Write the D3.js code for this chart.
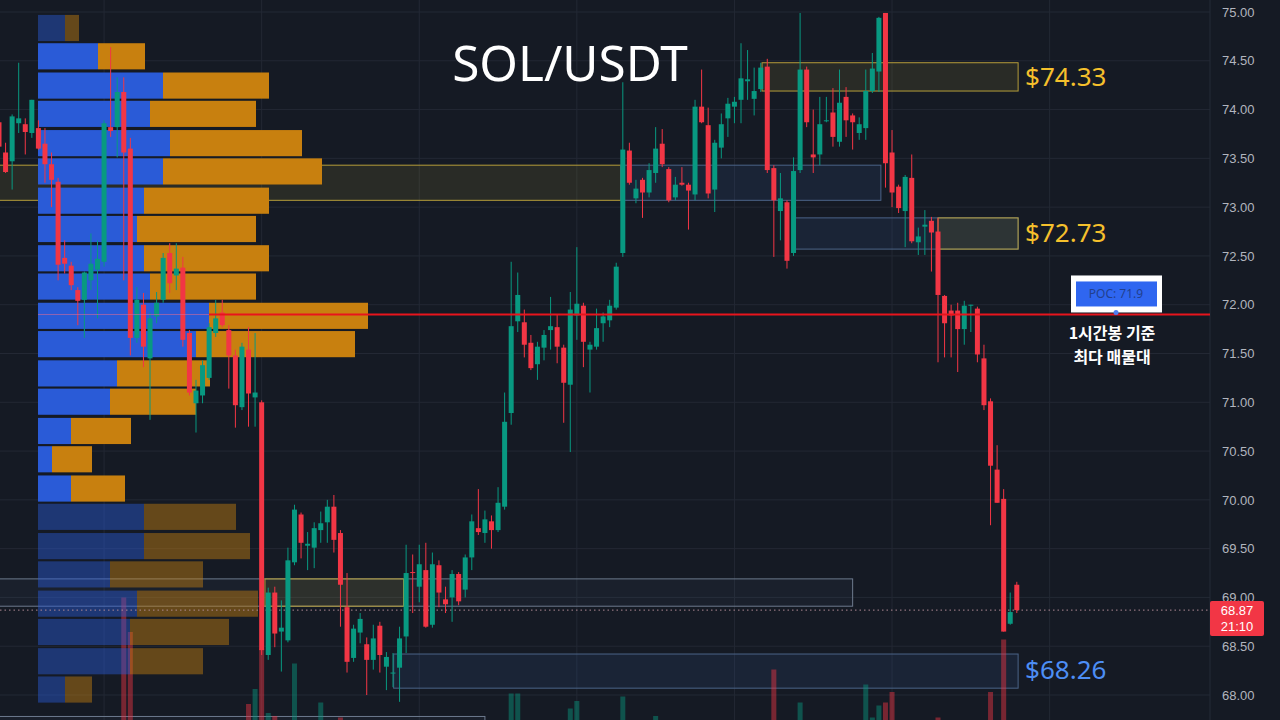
<!DOCTYPE html>
<html>
<head>
<meta charset="utf-8">
<script src="https://cdn.jsdelivr.net/npm/d3@7"></script>
<style>
  body { margin: 0; background: #151a24; overflow: hidden; }
</style>
</head>
<body>
<div id="chart"></div>
<script>
// SOL/USDT 1h candles (index 0 = leftmost visible bar)
const opens = [73.87,73.56,73.47,73.86,73.85,73.76,73.81,73.65,73.44,73.26,
  72.48,72.40,72.15,72.05,72.25,72.36,72.44,73.82,73.82,74.18,
  73.60,71.66,72.00,71.45,71.88,72.05,72.53,72.30,72.38,71.71,
  70.99,71.07,71.25,71.71,71.92,71.74,71.48,70.95,71.54,71.05,
  71.00,68.41,69.05,68.65,68.56,69.36,69.85,69.53,69.51,69.69,
  69.77,69.93,69.66,68.90,68.38,68.64,68.52,68.36,68.71,68.29,
  68.22,68.28,68.60,69.26,69.11,69.28,68.72,69.33,68.98,69.00,
  69.24,69.08,69.41,69.71,69.66,69.78,69.69,69.93,70.89,71.83,
  71.82,71.61,71.39,71.56,71.74,71.77,71.56,71.18,71.89,71.99,
  71.54,71.57,71.81,71.84,71.97,72.53,73.58,73.09,73.28,73.15,
  73.35,73.65,73.39,73.10,73.25,73.23,73.13,74.03,73.84,73.18,
  73.61,73.91,74.03,74.10,74.29,74.11,74.21,74.44,73.40,72.96,
  73.05,72.53,73.38,74.41,73.54,73.54,73.88,73.97,73.67,74.13,
  73.94,73.76,73.81,74.19,74.39,74.99,73.56,73.21,72.96,73.30,
  72.64,72.80,72.86,72.75,72.09,71.94,71.94,71.75,71.99,71.96,
  71.45,71.01,70.31,70.01,68.73,69.13];
const highs = [73.94,73.66,73.95,74.48,73.91,74.10,73.89,73.81,73.56,73.30,
  72.66,72.44,72.18,72.34,72.73,72.66,73.89,74.64,74.33,74.33,
  73.71,72.18,72.12,71.92,72.13,72.53,72.63,72.63,72.49,71.74,
  71.23,71.43,71.81,72.05,72.05,71.79,71.54,71.61,71.77,71.71,
  71.02,69.10,69.11,68.97,69.51,69.95,69.87,69.67,69.77,69.88,
  70.00,70.05,69.69,69.25,68.72,68.84,68.59,68.72,68.75,68.44,
  68.43,68.70,69.54,69.44,69.54,69.56,69.46,69.38,69.11,69.28,
  69.26,69.44,69.85,70.11,69.89,69.84,70.13,71.10,72.44,72.33,
  71.95,71.69,71.62,71.74,72.08,71.90,71.59,72.13,72.59,72.02,
  71.62,71.96,71.92,72.05,72.43,74.28,73.66,73.28,73.30,73.45,
  73.82,73.80,73.41,73.31,73.41,73.25,74.10,74.41,74.02,73.69,
  73.96,74.12,74.13,74.68,74.61,74.43,74.48,74.52,73.43,73.35,
  73.07,73.51,74.99,74.44,74.00,74.13,74.13,74.22,74.41,74.23,
  73.96,73.92,74.41,74.58,74.95,74.99,73.79,73.23,73.33,73.54,
  72.79,72.97,72.90,72.89,72.10,72.00,72.02,72.04,72.00,71.98,
  71.59,71.04,70.56,70.11,69.05,69.16];
const lows = [73.59,73.35,73.18,73.76,73.54,73.71,73.59,73.25,73.00,72.25,
  72.32,72.15,71.79,71.66,72.15,71.86,72.39,73.72,73.51,72.25,
  71.48,71.61,71.36,70.82,71.81,72.02,72.12,72.15,71.57,71.07,
  70.69,70.99,71.23,71.67,71.77,71.14,70.74,70.92,70.75,70.75,
  68.41,68.36,68.49,68.24,68.54,69.33,69.40,69.28,69.30,69.56,
  69.56,69.46,68.70,68.23,68.34,68.53,68.00,68.26,68.23,68.05,
  68.08,67.93,68.43,68.84,68.95,68.69,68.69,68.90,68.84,68.75,
  68.92,69.00,69.28,69.64,69.56,69.50,69.67,69.90,70.77,71.72,
  71.46,71.33,71.23,71.43,71.54,71.40,70.79,70.49,71.64,71.36,
  71.10,71.54,71.62,71.77,71.95,72.49,73.23,73.04,72.89,73.10,
  73.25,73.41,73.05,73.07,73.22,72.77,73.07,73.86,73.09,72.95,
  73.50,73.72,73.86,73.86,74.10,73.94,74.18,73.35,72.49,72.66,
  72.37,72.50,73.35,73.82,73.35,73.43,73.87,73.62,73.62,73.72,
  73.59,73.69,73.69,74.17,74.18,73.20,73.00,72.94,72.59,72.63,
  72.51,72.51,72.34,71.41,71.46,71.46,71.31,71.59,71.72,71.41,
  70.92,69.74,69.97,68.65,68.72,68.84];
const closes = [73.62,73.36,73.93,73.91,73.77,74.10,73.60,73.44,73.28,72.41,
  72.42,72.20,72.04,72.33,72.42,72.47,73.86,73.78,74.18,73.56,
  71.66,72.05,71.57,71.86,72.02,72.48,72.22,72.37,71.64,71.10,
  71.12,71.38,71.77,71.86,71.79,71.48,70.97,71.57,71.09,71.10,
  68.46,69.05,68.63,68.69,69.38,69.90,69.56,69.55,69.71,69.76,
  69.93,69.59,69.13,68.34,68.68,68.78,68.36,68.58,68.41,68.39,
  68.23,68.58,69.25,69.25,69.34,68.70,69.34,69.05,68.93,69.24,
  68.96,69.41,69.78,69.67,69.80,69.69,69.97,70.80,71.78,72.10,
  71.59,71.35,71.57,71.69,71.78,71.57,71.20,71.95,72.01,71.62,
  71.59,71.76,71.88,71.99,72.39,73.59,73.25,73.19,73.15,73.38,
  73.60,73.44,73.07,73.23,73.23,73.17,74.03,73.87,73.14,73.66,
  73.85,74.06,74.08,74.32,74.31,74.19,74.43,73.38,73.07,73.09,
  72.45,73.37,74.41,73.87,73.51,73.85,73.89,73.72,74.07,73.89,
  73.87,73.85,74.19,74.42,74.94,73.45,73.15,72.99,73.31,72.65,
  72.70,72.82,72.74,72.10,71.81,71.89,71.75,71.99,72.00,71.49,
  70.97,70.35,69.97,68.65,68.85,68.87];

// volume bars that reach into view (bar index, volume in k)
const volIndex = [19,20,38,39,40,41,42,45,49,52,78,79,87,88,95,100,118,122,132,133,134,135,136,143,151,153];
const volValue = [95,72,24,34,61,18,16,51,25,15,31,31,21,26,29,16,47,25,37,15,23,25,32,15,32,67];

// volume profile rows (row top price), buy / sell volume
const profileTop = [74.97,74.68,74.38,74.09,73.79,73.50,73.20,72.91,72.61,72.32,
  72.02,71.73,71.43,71.14,70.84,70.55,70.25,69.96,69.66,69.37,69.07,68.78,68.48,68.19];
const profileBuy = [27,60,125,112,132,125,106,99,106,112,171,158,79,72,33,14,33,106,106,72,99,92,92,27];
const profileSell = [14,47,106,106,132,159,125,119,125,106,159,159,93,86,60,40,54,92,106,93,121,99,73,27];
const valueAreaHigh = 74.70, valueAreaLow = 70.0;
const poc = 71.9;
const lastPrice = 68.87, countdown = "21:10";

// supply / demand zones (bar index range, price range)
const zoneStart = [0, 94.7, 116.2, 121.3, 143, 0, 40.5, 60.1, 0];
const zoneEnd   = [94.7, 134.3, 155.2, 155.2, 155.2, 130, 61.6, 155.2, 74];
const zoneHigh  = [73.43, 73.43, 74.48, 72.89, 72.89, 69.19, 69.19, 68.42, 67.78];
const zoneLow   = [73.07, 73.07, 74.19, 72.57, 72.57, 68.91, 68.91, 68.07, 67.40];
const zoneKind  = ["yellow","blue","yellow","blue","yellow","gray","yellow","blue","gray"];

const levelLabels = ["$74.33", "$72.73", "$68.26"];
const levelPrices = [74.33, 72.73, 68.26];
const levelKinds  = ["yellow", "yellow", "blue"];

const priceTicks = [68,68.5,69,69.5,70,70.5,71,71.5,72,72.5,73,73.5,74,74.5,75];
const timeGrid = [16, 40, 64, 88, 112, 136, 160];

// ---------- setup ----------
const W = 1280, H = 720, plotRight = 1210;
const up = "#089981", down = "#f23645";

const svg = d3.select("#chart").append("svg")
  .attr("width", W).attr("height", H)
  .style("font-family", "'Noto Sans', sans-serif");

svg.append("rect").attr("width", W).attr("height", H).attr("fill", "#151a24");

const y = d3.scaleLinear().domain([68, 75]).range([695, 12]);
const x = d3.scaleLinear().domain([0, 155]).range([-1, 1016.8]);
const xVol = d3.scaleLinear().domain([0, 330]).range([38, 368]);
const yVolume = d3.scaleLinear().domain([0, 100]).range([740, 590]);

const candles = opens.map((o, i) => ({ i, o, h: highs[i], l: lows[i], c: closes[i] }));

// grid
const grid = svg.append("g");
grid.selectAll(".hg").data(priceTicks).enter().append("line")
  .attr("x1", 0).attr("x2", plotRight)
  .attr("y1", d => y(d)).attr("y2", d => y(d))
  .attr("stroke", "#232834").attr("stroke-width", 1);
grid.selectAll(".vg").data(timeGrid).enter().append("line")
  .attr("x1", d => x(d)).attr("x2", d => x(d))
  .attr("y1", 0).attr("y2", H)
  .attr("stroke", "#232834").attr("stroke-width", 1);
svg.append("line").attr("x1", plotRight).attr("x2", plotRight).attr("y1", 0).attr("y2", H)
  .attr("stroke", "#252a36");

// zones
const zoneStyle = {
  yellow: { fill: "rgba(150,135,50,0.16)", stroke: "#b59d3a" },
  blue:   { fill: "rgba(60,100,170,0.14)", stroke: "#4b6488" },
  gray:   { fill: "rgba(90,110,140,0.08)", stroke: "#6d7a8e" }
};
const zones = zoneStart.map((s, k) => ({ s, e: zoneEnd[k], hi: zoneHigh[k], lo: zoneLow[k], kind: zoneKind[k] }));
svg.append("g").selectAll("rect").data(zones).enter().append("rect")
  .attr("x", d => x(d.s)).attr("width", d => x(d.e) - x(d.s))
  .attr("y", d => y(d.hi)).attr("height", d => y(d.lo) - y(d.hi))
  .attr("fill", d => zoneStyle[d.kind].fill)
  .attr("stroke", d => zoneStyle[d.kind].stroke)
  .attr("stroke-width", 1);

// volume bars
svg.append("g").selectAll("rect").data(volIndex).enter().append("rect")
  .attr("x", d => x(d) - 2.5).attr("width", 5)
  .attr("y", (d, k) => yVolume(volValue[k]))
  .attr("height", (d, k) => H - yVolume(volValue[k]))
  .attr("fill", d => closes[d] >= opens[d] ? up : down)
  .attr("opacity", 0.45);

// volume profile
const rowH = y(0) - y(0.268);
const prof = svg.append("g");
const rows = profileTop.map((t, k) => ({ t, b: profileBuy[k], s: profileSell[k],
  inVA: t <= valueAreaHigh && t > valueAreaLow }));
prof.selectAll(".buy").data(rows).enter().append("rect")
  .attr("x", xVol(0)).attr("y", d => y(d.t))
  .attr("width", d => xVol(d.b) - xVol(0)).attr("height", rowH)
  .attr("fill", "#2a5bd7").attr("opacity", d => d.inVA ? 1 : 0.45);
prof.selectAll(".sell").data(rows).enter().append("rect")
  .attr("x", d => xVol(d.b)).attr("y", d => y(d.t))
  .attr("width", d => xVol(d.b + d.s) - xVol(d.b)).attr("height", rowH)
  .attr("fill", "#c8800f").attr("opacity", d => d.inVA ? 1 : 0.45);

// last price dotted line
svg.append("line")
  .attr("x1", 0).attr("x2", plotRight)
  .attr("y1", y(lastPrice)).attr("y2", y(lastPrice))
  .attr("stroke", "#b08a94").attr("stroke-width", 1)
  .attr("stroke-dasharray", "1.5,3");

// candles
const cg = svg.append("g").selectAll("g").data(candles).enter().append("g");
cg.append("line")
  .attr("x1", d => x(d.i)).attr("x2", d => x(d.i))
  .attr("y1", d => y(d.h)).attr("y2", d => y(d.l))
  .attr("stroke", d => d.c >= d.o ? up : down).attr("stroke-width", 1);
cg.append("rect")
  .attr("x", d => x(d.i) - 2.5).attr("width", 5)
  .attr("y", d => y(Math.max(d.o, d.c)))
  .attr("height", d => Math.max(1, Math.abs(y(d.o) - y(d.c))))
  .attr("fill", d => d.c >= d.o ? up : down);

// POC line
const pocRow = rows.find(r => r.t >= poc && r.t - 0.295 < poc);
svg.append("line")
  .attr("x1", xVol(0)).attr("x2", xVol(pocRow.b))
  .attr("y1", y(poc)).attr("y2", y(poc))
  .attr("stroke", "#d86a9a").attr("stroke-width", 1).attr("opacity", 0.6);
svg.append("line")
  .attr("x1", xVol(pocRow.b)).attr("x2", plotRight)
  .attr("y1", y(poc)).attr("y2", y(poc))
  .attr("stroke", "#e8141c").attr("stroke-width", 2);

// POC label
const pocX = 1116;
svg.append("rect").attr("x", pocX - 45).attr("y", y(poc) - 39).attr("width", 91).attr("height", 37)
  .attr("fill", "#ffffff");
svg.append("rect").attr("x", pocX - 40).attr("y", y(poc) - 33).attr("width", 81).attr("height", 25)
  .attr("fill", "#2f66f0");
svg.append("text").attr("x", pocX).attr("y", y(poc) - 16)
  .attr("text-anchor", "middle").attr("font-size", 12).attr("fill", "#22408e")
  .text("POC: " + poc);
svg.append("circle").attr("cx", pocX).attr("cy", y(poc) - 2).attr("r", 2.5).attr("fill", "#4d7ff2");
svg.append("text").attr("x", pocX - 4).attr("y", y(poc) + 25)
  .attr("text-anchor", "middle").attr("font-size", 16).attr("font-weight", 700)
  .attr("font-family", "'Noto Sans CJK KR', sans-serif").attr("fill", "#ffffff")
  .text("1시간봉 기준");
svg.append("text").attr("x", pocX - 4).attr("y", y(poc) + 49)
  .attr("text-anchor", "middle").attr("font-size", 16).attr("font-weight", 700)
  .attr("font-family", "'Noto Sans CJK KR', sans-serif").attr("fill", "#ffffff")
  .text("최다 매물대");

// level labels
svg.append("g").selectAll("text").data(levelLabels).enter().append("text")
  .attr("x", x(155.2) + 7)
  .attr("y", (d, k) => y(levelPrices[k]) + 9)
  .attr("font-size", 26)
  .attr("fill", (d, k) => levelKinds[k] === "yellow" ? "#f5c02c" : "#4d8ef5")
  .text(d => d);

// title
svg.append("text").attr("x", 570).attr("y", 81)
  .attr("text-anchor", "middle").attr("font-size", 49.5).attr("fill", "#ffffff")
  .text("SOL/USDT");

// right price axis
const axis = svg.append("g").attr("transform", `translate(${plotRight},0)`)
  .call(d3.axisRight(y).tickValues(priceTicks).tickFormat(d3.format(".2f")).tickSize(0).tickPadding(12));
axis.select(".domain").remove();
axis.selectAll("text").attr("fill", "#b2b5be").attr("font-size", 13)
  .attr("font-family", "'Liberation Sans', Arial, sans-serif");

// last price tag
const tagY = y(lastPrice);
svg.append("rect").attr("x", plotRight).attr("y", tagY - 9).attr("width", 54).attr("height", 35)
  .attr("rx", 2).attr("fill", down);
svg.append("text").attr("x", plotRight + 27).attr("y", tagY + 5)
  .attr("text-anchor", "middle").attr("font-size", 13).attr("fill", "#ffffff")
  .attr("font-family", "'Liberation Sans', Arial, sans-serif")
  .text(lastPrice.toFixed(2));
svg.append("text").attr("x", plotRight + 27).attr("y", tagY + 21)
  .attr("text-anchor", "middle").attr("font-size", 13).attr("fill", "#ffffff")
  .attr("font-family", "'Liberation Sans', Arial, sans-serif")
  .text(countdown);
</script>
</body>
</html>
